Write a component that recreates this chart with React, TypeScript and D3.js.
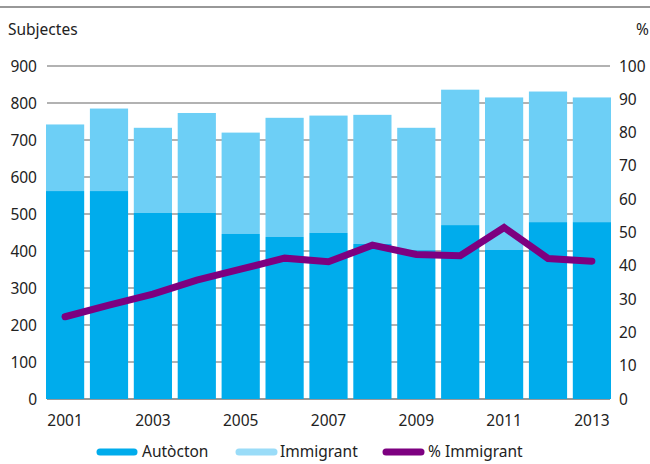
import React from "react";
import * as d3 from "d3";

const years = ["2001","2002","2003","2004","2005","2006","2007","2008","2009","2010","2011","2012","2013"];
const autocton = [562, 562, 503, 503, 446, 438, 449, 419, 402, 470, 403, 478, 478];
const totals = [742, 785, 733, 773, 720, 760, 766, 768, 733, 836, 815, 831, 815];
const pctImmigrant = [24.7, 28.2, 31.5, 35.7, 39.0, 42.3, 41.2, 46.2, 43.4, 43.0, 51.5, 42.2, 41.4];
const leftTicks = [0, 100, 200, 300, 400, 500, 600, 700, 800, 900];
const rightTicks = [0, 10, 20, 30, 40, 50, 60, 70, 80, 90, 100];
const xLabels = ["2001", "2003", "2005", "2007", "2009", "2011", "2013"];

const C_AUT = "#00acec";
const C_IMM = "#6dcff6";
const C_PCT = "#7d0080";
const FONT = "'Noto Sans', sans-serif";
const FS = 15.5;

export default function App() {
  const W = 650, H = 464;
  const x = d3.scaleBand<string>().domain(years).range([46, 611]).paddingInner(0.13).paddingOuter(0);
  const yL = d3.scaleLinear().domain([0, 900]).range([399, 66]);
  const yR = d3.scaleLinear().domain([0, 100]).range([399, 66]);
  const line = d3.line<number>()
    .x((_, i) => (x(years[i]) as number) + x.bandwidth() / 2)
    .y((d) => yR(d));

  return (
    <svg width={W} height={H} style={{ position: "absolute", left: 0, top: 0 }} fontFamily={FONT}>
      <rect width={W} height={H} fill="#fff" />
      <line x1={0} x2={W} y1={7} y2={7} stroke="#333" strokeWidth={1.2} />
      <text x={8} y={35} fontSize={FS} fill="#222">Subjectes</text>
      <text x={649} y={35} fontSize={FS} fill="#222" textAnchor="end">%</text>
      {leftTicks.map((t) => (
        <g key={t}>
          <line x1={47} x2={610} y1={yL(t)} y2={yL(t)} stroke={t === 0 ? "#333" : "#666"} strokeWidth={1.1} />
          <text x={37} y={yL(t) + 5.5} fontSize={FS} textAnchor="end" fill="#222">{t}</text>
        </g>
      ))}
      {rightTicks.map((t) => (
        <text key={t} x={619} y={yR(t) + 5.5} fontSize={FS} fill="#222">{t}</text>
      ))}
      {years.map((yr, i) => (
        <g key={yr}>
          <rect x={x(yr)} width={x.bandwidth()} y={yL(totals[i])} height={yL(autocton[i]) - yL(totals[i])} fill={C_IMM} />
          <rect x={x(yr)} width={x.bandwidth()} y={yL(autocton[i])} height={yL(0) - yL(autocton[i])} fill={C_AUT} />
        </g>
      ))}
      <path d={line(pctImmigrant) || ""} fill="none" stroke={C_PCT} strokeWidth={7} strokeLinejoin="miter" strokeLinecap="round" />
      {xLabels.map((yr) => (
        <text key={yr} x={(x(yr) as number) + x.bandwidth() / 2} y={426} fontSize={FS} textAnchor="middle" fill="#222">{yr}</text>
      ))}
      <g>
        <line x1={100} x2={134} y1={452} y2={452} stroke={C_AUT} strokeWidth={7} strokeLinecap="round" />
        <text x={142} y={457} fontSize={FS} fill="#222">Autòcton</text>
        <line x1={239} x2={274} y1={452} y2={452} stroke="#9adcf8" strokeWidth={7} strokeLinecap="round" />
        <text x={280} y={457} fontSize={FS} fill="#222">Immigrant</text>
        <line x1={386} x2={421} y1={452} y2={452} stroke={C_PCT} strokeWidth={7} strokeLinecap="round" />
        <text x={428} y={457} fontSize={FS} fill="#222">% Immigrant</text>
      </g>
    </svg>
  );
}
